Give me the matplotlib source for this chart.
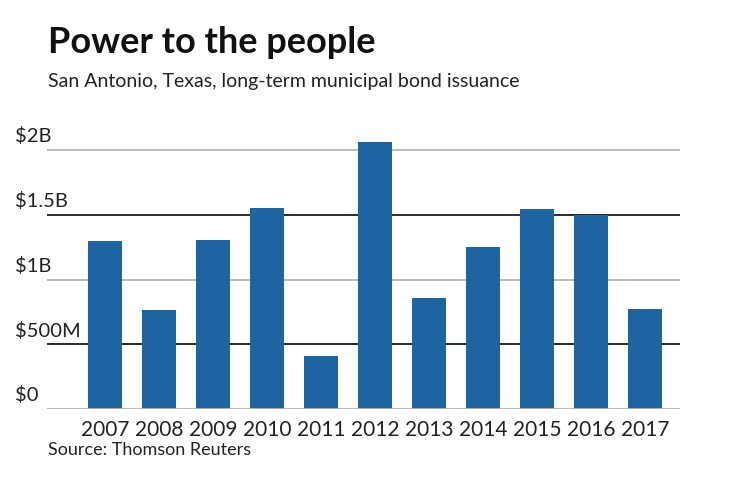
import matplotlib
matplotlib.use("Agg")
import matplotlib.pyplot as plt
import matplotlib.transforms as mtransforms

plt.rcParams["font.family"] = ["Lato", "DejaVu Sans"]

# Data — long-term municipal bond issuance, $ millions
years = ["2007", "2008", "2009", "2010", "2011", "2012",
         "2013", "2014", "2015", "2016", "2017"]
issuance = [1300, 765, 1305, 1555, 410, 2060, 855, 1250, 1545, 1500, 775]
tick_values = [0, 500, 1000, 1500, 2000]
tick_labels = ["$0", "$500M", "$1B", "$1.5B", "$2B"]

BAR_COLOR = "#1c65a0"
W, H = 740, 482

fig = plt.figure(figsize=(W / 100, H / 100), dpi=100)
fig.patch.set_facecolor("white")

# axes placed in pixel terms: x 47..680, y-zero at 409 px from top
ymax = 2150
px_per_unit = 259 / 2000
ax_left, ax_right = 47, 680
ax_bottom = 409
ax_top = ax_bottom - ymax * px_per_unit
ax = fig.add_axes([ax_left / W, 1 - ax_bottom / H,
                   (ax_right - ax_left) / W, (ax_bottom - ax_top) / H])

x = list(range(len(years)))
ax.bar(x, issuance, width=0.63, color=BAR_COLOR, zorder=3)

# gridlines: alternate light gray / dark
line_colors = ["#b5b5b5", "#1a1a1a", "#b5b5b5", "#1a1a1a", "#b5b5b5"]
for v, c in zip(tick_values, line_colors):
    ax.axhline(v, color=c, linewidth=1.3, zorder=1 if v else 4)

ax.set_xlim(-1.074, 10.65)
ax.set_ylim(0, ymax)
for s in ax.spines.values():
    s.set_visible(False)
ax.set_yticks([])
ax.set_xticks(x)
ax.set_xticklabels(years, fontsize=15, color="#222222")
ax.tick_params(axis="x", length=0, pad=8)

# y labels sit above the lines, flush left in the figure
trans = mtransforms.blended_transform_factory(fig.transFigure, ax.transData)
for v, lab in zip(tick_values, tick_labels):
    ax.text(15 / W, v + 35, lab, transform=trans, ha="left", va="bottom",
            fontsize=14.5, color="#222222")

fig.text(48 / W, 1 - 53 / H, "Power to the people", fontsize=26,
         fontweight="bold", color="#111111", ha="left", va="baseline")
fig.text(48 / W, 1 - 87 / H, "San Antonio, Texas, long-term municipal bond issuance",
         fontsize=14, color="#222222", ha="left", va="baseline")
fig.text(48 / W, 1 - 455 / H, "Source: Thomson Reuters", fontsize=13,
         color="#222222", ha="left", va="baseline")

fig.savefig("out.png", dpi=100, facecolor="white")
